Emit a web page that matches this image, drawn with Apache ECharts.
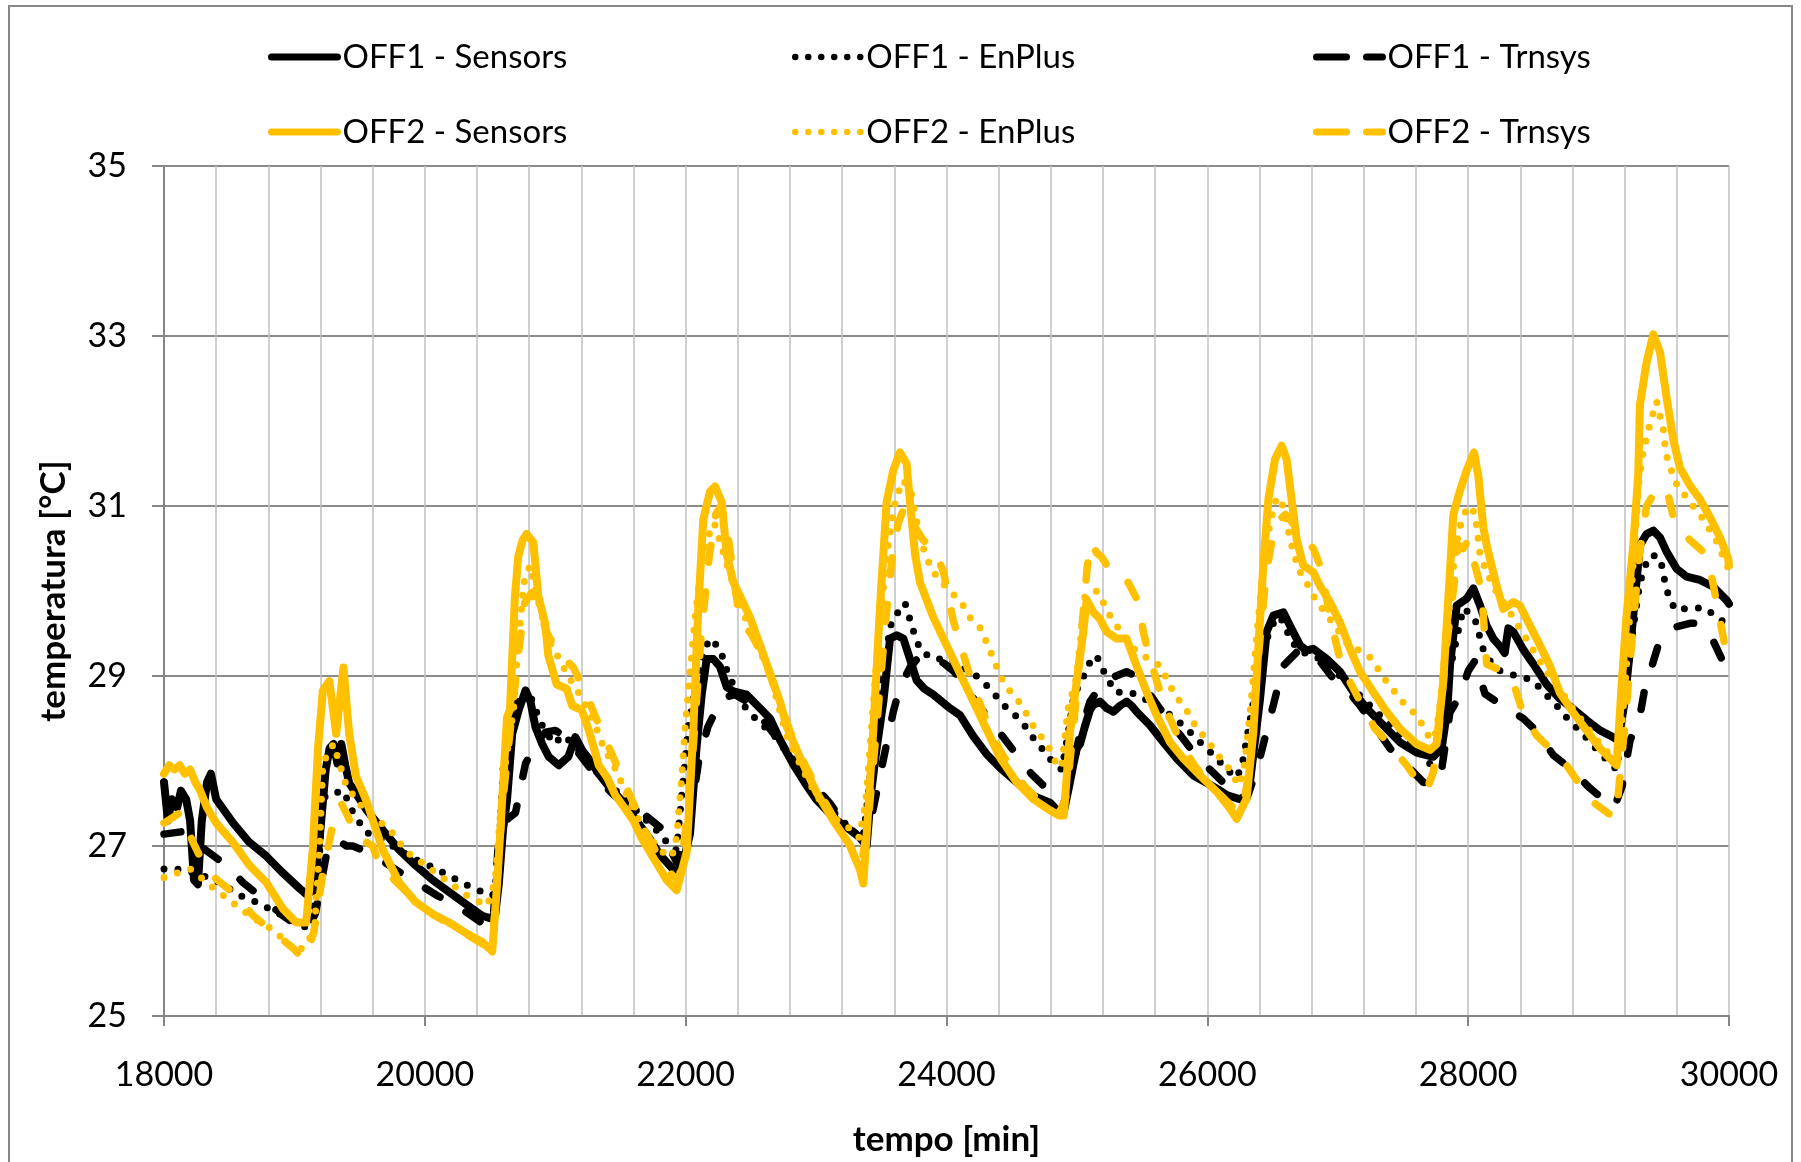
<!DOCTYPE html>
<html>
<head>
<meta charset="utf-8">
<script src="https://cdn.jsdelivr.net/npm/echarts/dist/echarts.min.js"></script>
<style>
html,body{margin:0;padding:0;background:#fff;}
#c{width:1801px;height:1162px;}
</style>
</head>
<body>
<div id="c"></div>
<script>
// ---- axis ticks ----
const xTicks = [18000, 20000, 22000, 24000, 26000, 28000, 30000];
const yTicks = [25, 27, 29, 31, 33, 35];

// ---- series names ----
const seriesNames = ['OFF1 - Sensors', 'OFF1 - EnPlus', 'OFF1 - Trnsys', 'OFF2 - Sensors', 'OFF2 - EnPlus', 'OFF2 - Trnsys'];

// ---- data [tempo min, temperatura °C] ----
const off1Sensors = [[18000,27.75],[18030,27.3],[18060,27.55],[18100,27.45],[18130,27.65],[18170,27.55],[18200,27.3],[18230,26.6],[18260,26.55],[18290,27.3],[18330,27.75],[18360,27.85],[18400,27.55],[18530,27.27],[18650,27.05],[18785,26.88],[18900,26.7],[19040,26.5],[19100,26.42],[19150,26.5],[19200,27.2],[19240,27.9],[19270,28.15],[19300,28.2],[19330,27.97],[19360,28.2],[19390,27.95],[19420,27.74],[19480,27.6],[19550,27.43],[19676,27.19],[19800,26.96],[19930,26.77],[20060,26.6],[20186,26.46],[20310,26.32],[20440,26.18],[20500,26.15],[20540,26.2],[20568,26.57],[20600,27.2],[20630,27.54],[20670,28.32],[20720,28.6],[20772,28.83],[20810,28.7],[20848,28.4],[20900,28.2],[20950,28.05],[21027,27.95],[21100,28.05],[21154,28.28],[21205,28.13],[21270,28.0],[21333,27.85],[21400,27.72],[21460,27.62],[21530,27.5],[21599,27.35],[21660,27.22],[21726,27.08],[21800,26.9],[21854,26.81],[21931,26.68],[21980,26.8],[22033,27.14],[22084,28.17],[22123,28.78],[22161,29.2],[22212,29.2],[22263,29.11],[22315,28.87],[22366,28.82],[22468,28.78],[22570,28.62],[22647,28.5],[22723,28.25],[22825,27.96],[22928,27.71],[23000,27.55],[23081,27.42],[23160,27.3],[23235,27.22],[23337,27.1],[23388,27.0],[23420,27.6],[23460,28.1],[23516,28.7],[23567,29.44],[23618,29.48],[23669,29.44],[23720,29.2],[23771,28.95],[23830,28.85],[23899,28.78],[24027,28.62],[24103,28.54],[24206,28.29],[24308,28.08],[24410,27.92],[24538,27.75],[24666,27.59],[24794,27.51],[24860,27.4],[24896,27.38],[24940,27.7],[24973,27.96],[25000,28.15],[25024,28.2],[25060,28.4],[25100,28.6],[25126,28.66],[25177,28.7],[25230,28.62],[25279,28.58],[25330,28.65],[25381,28.7],[25420,28.65],[25458,28.58],[25560,28.42],[25663,28.22],[25765,28.03],[25893,27.83],[26020,27.72],[26100,27.65],[26148,27.6],[26250,27.55],[26300,27.6],[26327,27.75],[26370,28.3],[26404,28.73],[26455,29.52],[26506,29.71],[26583,29.75],[26634,29.59],[26711,29.36],[26760,29.3],[26813,29.32],[26915,29.2],[27017,29.05],[27120,28.81],[27222,28.62],[27349,28.42],[27477,28.22],[27605,28.1],[27733,28.05],[27797,28.15],[27840,28.6],[27861,29.13],[27912,29.83],[27989,29.91],[28040,30.03],[28091,29.83],[28142,29.59],[28193,29.44],[28244,29.35],[28280,29.27],[28308,29.56],[28346,29.52],[28423,29.31],[28500,29.14],[28602,28.9],[28704,28.73],[28806,28.61],[28908,28.48],[29011,28.36],[29113,28.28],[29151,28.24],[29200,28.7],[29241,29.31],[29292,30.13],[29317,30.54],[29368,30.67],[29420,30.71],[29471,30.63],[29522,30.46],[29599,30.26],[29675,30.17],[29777,30.13],[29880,30.05],[29982,29.89],[30000,29.85]];

const off1EnPlus = [[18000,26.73],[18100,26.73],[18200,26.7],[18300,26.65],[18400,26.59],[18500,26.5],[18606,26.4],[18708,26.34],[18810,26.26],[18912,26.18],[19040,26.07],[19116,26.03],[19180,26.57],[19218,27.58],[19281,27.58],[19358,27.66],[19410,27.54],[19450,27.39],[19550,27.16],[19676,27.08],[19800,26.95],[19930,26.84],[20060,26.75],[20186,26.65],[20310,26.55],[20440,26.46],[20520,26.42],[20560,26.7],[20600,27.9],[20650,28.5],[20720,28.75],[20790,28.85],[20850,28.6],[20920,28.35],[21000,28.2],[21050,28.3],[21100,28.25],[21200,28.1],[21300,27.9],[21400,27.75],[21500,27.6],[21600,27.45],[21700,27.3],[21800,27.15],[21880,27.0],[21930,26.95],[21970,27.6],[22020,28.4],[22080,28.9],[22140,29.3],[22187,29.44],[22263,29.32],[22330,29.0],[22400,28.8],[22468,28.6],[22570,28.45],[22680,28.3],[22800,28.05],[22900,27.8],[23000,27.6],[23100,27.45],[23200,27.3],[23300,27.15],[23360,27.1],[23400,27.6],[23450,28.4],[23500,29.0],[23580,29.65],[23682,29.86],[23746,29.53],[23800,29.3],[23899,29.2],[24027,29.2],[24120,29.1],[24206,29.03],[24295,28.91],[24372,28.78],[24436,28.66],[24525,28.54],[24602,28.41],[24666,28.27],[24730,28.15],[24807,28.0],[24883,27.9],[24930,28.3],[24980,28.8],[25024,28.9],[25080,29.1],[25113,29.2],[25151,29.24],[25190,29.1],[25292,28.81],[25407,28.81],[25500,28.75],[25600,28.65],[25680,28.58],[25752,28.5],[25841,28.38],[25918,28.26],[25995,28.15],[26071,28.03],[26148,27.91],[26212,27.8],[26260,27.9],[26330,28.5],[26400,29.1],[26470,29.5],[26531,29.7],[26580,29.65],[26634,29.44],[26700,29.3],[26780,29.25],[26870,29.2],[26950,29.1],[27050,28.95],[27150,28.8],[27250,28.65],[27350,28.5],[27450,28.35],[27550,28.2],[27650,28.05],[27720,27.95],[27780,28.4],[27850,29.0],[27920,29.5],[27963,29.8],[28000,29.75],[28052,29.67],[28116,29.31],[28167,29.18],[28244,29.06],[28372,29.0],[28474,28.96],[28551,28.86],[28627,28.73],[28704,28.61],[28781,28.46],[28870,28.34],[28934,28.22],[29011,28.1],[29087,27.97],[29140,27.9],[29190,28.6],[29250,29.4],[29317,30.1],[29381,30.4],[29445,30.42],[29497,30.26],[29509,30.07],[29547,29.91],[29586,29.78],[29701,29.8],[29816,29.8],[29900,29.7],[29994,29.6],[30000,29.6]];

const off1Trnsys = [[18000,27.14],[18148,27.17],[18250,27.05],[18313,26.96],[18480,26.77],[18606,26.57],[18760,26.38],[18912,26.18],[19014,26.07],[19100,26.03],[19160,26.2],[19243,26.88],[19320,27.08],[19400,27.0],[19447,27.0],[19575,26.92],[19700,26.8],[19850,26.65],[20091,26.42],[20244,26.3],[20423,26.11],[20520,26.05],[20568,27.12],[20620,27.3],[20695,27.39],[20772,27.97],[20850,28.2],[20925,28.34],[21000,28.36],[21060,28.3],[21150,28.15],[21250,27.95],[21350,27.75],[21450,27.6],[21550,27.47],[21675,27.38],[21803,27.22],[21870,27.0],[21931,26.81],[21990,27.0],[22050,27.5],[22100,28.0],[22170,28.4],[22276,28.74],[22380,28.78],[22470,28.7],[22560,28.55],[22660,28.35],[22760,28.15],[22860,27.95],[22960,27.75],[23050,27.6],[23107,27.5],[23200,27.3],[23300,27.15],[23362,27.05],[23420,27.3],[23500,27.9],[23592,28.58],[23643,28.87],[23720,29.1],[23797,29.24],[23899,29.2],[23980,29.15],[24060,29.05],[24150,28.85],[24250,28.65],[24350,28.45],[24450,28.25],[24550,28.05],[24650,27.85],[24750,27.7],[24850,27.55],[24900,27.5],[24950,27.8],[25020,28.3],[25100,28.7],[25203,28.93],[25300,29.0],[25381,29.05],[25450,29.0],[25530,28.85],[25620,28.65],[25720,28.45],[25820,28.25],[25920,28.05],[26020,27.9],[26120,27.75],[26220,27.62],[26300,27.55],[26380,27.9],[26480,28.5],[26531,28.81],[26583,29.12],[26685,29.28],[26760,29.3],[26850,29.2],[26950,29.0],[27043,28.89],[27171,28.65],[27286,28.4],[27400,28.15],[27528,27.95],[27656,27.75],[27720,27.72],[27796,27.89],[27860,28.57],[27937,28.77],[28001,29.06],[28052,29.18],[28129,28.79],[28282,28.63],[28423,28.5],[28525,28.35],[28653,28.07],[28781,27.91],[28934,27.68],[29074,27.5],[29120,27.45],[29180,27.7],[29241,28.24],[29317,28.53],[29355,28.86],[29406,29.1],[29471,29.43],[29599,29.58],[29700,29.62],[29777,29.62],[29880,29.41],[29969,29.12],[30000,29.0]];

const off2Sensors = [[18000,27.85],[18040,27.95],[18080,27.9],[18120,27.95],[18160,27.85],[18200,27.9],[18240,27.75],[18275,27.66],[18330,27.45],[18400,27.27],[18530,27.04],[18657,26.77],[18785,26.57],[18912,26.26],[19014,26.1],[19090,26.1],[19141,26.96],[19180,28.13],[19218,28.83],[19268,28.94],[19320,28.32],[19376,29.1],[19420,28.32],[19472,27.82],[19550,27.54],[19676,26.96],[19803,26.57],[19930,26.34],[20060,26.2],[20186,26.1],[20310,25.98],[20440,25.87],[20517,25.76],[20555,26.57],[20593,27.54],[20630,28.51],[20653,28.61],[20691,29.94],[20717,30.41],[20750,30.6],[20781,30.67],[20832,30.57],[20870,29.94],[20921,29.63],[20947,29.24],[21011,28.9],[21088,28.85],[21130,28.65],[21203,28.6],[21260,28.35],[21333,27.95],[21400,27.8],[21460,27.6],[21530,27.45],[21599,27.3],[21660,27.1],[21726,26.93],[21854,26.6],[21931,26.48],[22008,26.93],[22059,28.37],[22097,29.81],[22135,30.84],[22187,31.17],[22225,31.23],[22276,31.05],[22315,30.43],[22366,30.1],[22417,29.94],[22493,29.69],[22570,29.36],[22647,29.03],[22723,28.7],[22774,28.41],[22877,28.04],[23004,27.63],[23132,27.3],[23260,27.01],[23337,26.72],[23362,26.56],[23388,27.14],[23439,28.37],[23490,29.81],[23541,31.05],[23592,31.42],[23643,31.63],[23694,31.5],[23720,31.05],[23759,30.43],[23797,30.1],[23899,29.69],[24001,29.36],[24103,29.03],[24206,28.7],[24308,28.37],[24410,28.04],[24538,27.75],[24666,27.55],[24794,27.42],[24860,27.36],[24900,27.36],[24947,28.34],[24998,28.93],[25049,29.52],[25075,29.9],[25126,29.75],[25177,29.67],[25228,29.52],[25305,29.44],[25381,29.44],[25458,29.12],[25535,28.81],[25611,28.54],[25714,28.22],[25816,28.03],[25944,27.83],[26071,27.64],[26174,27.44],[26225,27.32],[26301,27.56],[26353,28.34],[26391,29.32],[26429,30.3],[26468,31.08],[26519,31.55],[26570,31.71],[26608,31.55],[26646,31.08],[26685,30.61],[26736,30.3],[26813,30.22],[26864,30.06],[26940,29.87],[27017,29.63],[27094,29.32],[27171,29.05],[27273,28.81],[27375,28.58],[27477,28.38],[27605,28.2],[27707,28.13],[27758,28.2],[27809,28.93],[27848,29.91],[27886,30.9],[27937,31.18],[27989,31.42],[28045,31.63],[28078,31.35],[28116,30.75],[28142,30.54],[28167,30.38],[28218,30.06],[28269,29.79],[28346,29.87],[28397,29.83],[28474,29.59],[28551,29.36],[28627,29.12],[28704,28.8],[28806,28.57],[28908,28.36],[29011,28.15],[29113,27.99],[29138,27.95],[29177,28.9],[29215,29.72],[29266,30.54],[29304,31.37],[29317,32.19],[29368,32.69],[29420,33.02],[29471,32.81],[29522,32.27],[29573,31.78],[29624,31.45],[29701,31.24],[29777,31.08],[29854,30.87],[29931,30.63],[29994,30.38],[30000,30.3]];

const off2EnPlus = [[18000,26.63],[18100,26.68],[18200,26.73],[18300,26.61],[18377,26.51],[18555,26.3],[18657,26.18],[18800,26.05],[18912,25.91],[19014,25.76],[19090,25.83],[19154,26.03],[19192,26.96],[19218,27.97],[19260,28.1],[19300,28.2],[19340,28.0],[19400,27.7],[19529,27.44],[19640,27.3],[19733,27.19],[19861,26.93],[19963,26.82],[20052,26.72],[20142,26.62],[20231,26.52],[20321,26.42],[20410,26.35],[20480,26.3],[20540,26.6],[20580,27.4],[20620,28.0],[20680,28.6],[20717,29.4],[20760,30.1],[20806,30.3],[20850,30.0],[20900,29.7],[20960,29.4],[21030,29.2],[21100,29.0],[21200,28.75],[21300,28.45],[21369,28.17],[21471,27.88],[21599,27.42],[21700,27.15],[21800,26.95],[21893,26.87],[21930,27.1],[21944,27.34],[21969,27.8],[21995,28.37],[22030,29.0],[22080,29.8],[22130,30.4],[22187,30.7],[22220,30.8],[22260,30.6],[22320,30.3],[22400,29.9],[22480,29.6],[22570,29.3],[22650,29.0],[22774,28.3],[22890,27.92],[23000,27.6],[23120,27.35],[23247,27.22],[23330,27.1],[23380,27.5],[23430,28.5],[23480,29.5],[23540,30.4],[23600,31.0],[23660,31.3],[23700,31.25],[23733,31.13],[23759,30.93],[23784,30.72],[23810,30.55],[23886,30.25],[23963,30.1],[24040,29.98],[24116,29.86],[24180,29.69],[24257,29.57],[24321,29.35],[24372,29.15],[24423,28.97],[24487,28.82],[24576,28.66],[24666,28.41],[24781,28.17],[24832,28.0],[24883,27.92],[24930,28.6],[24998,28.99],[25062,29.95],[25126,29.98],[25151,30.0],[25215,29.83],[25266,29.67],[25350,29.5],[25450,29.3],[25550,29.2],[25637,29.12],[25688,28.97],[25739,28.81],[25803,28.67],[25867,28.54],[25918,28.38],[25995,28.26],[26059,28.11],[26123,27.99],[26187,27.87],[26238,27.71],[26280,27.9],[26330,28.6],[26380,29.5],[26430,30.3],[26480,30.8],[26531,31.1],[26570,31.05],[26610,30.8],[26634,30.61],[26697,30.26],[26760,30.1],[26830,29.9],[26940,29.67],[27020,29.5],[27081,29.36],[27170,29.3],[27247,29.22],[27311,29.08],[27375,28.93],[27439,28.81],[27516,28.66],[27605,28.54],[27694,28.3],[27740,28.25],[27780,28.6],[27830,29.4],[27880,30.2],[27925,30.69],[27963,30.88],[28000,31.0],[28052,30.92],[28091,30.42],[28167,30.14],[28230,29.95],[28300,29.8],[28400,29.55],[28500,29.3],[28600,29.05],[28700,28.85],[28800,28.62],[28900,28.42],[29000,28.22],[29100,28.05],[29150,28.0],[29200,28.8],[29260,30.2],[29310,31.3],[29343,31.65],[29400,32.0],[29445,32.23],[29480,32.0],[29497,31.9],[29509,31.72],[29530,31.53],[29600,31.25],[29700,31.05],[29800,30.85],[29900,30.6],[30000,30.25]];

const off2Trnsys = [[18000,27.27],[18122,27.39],[18224,27.04],[18275,26.88],[18400,26.61],[18555,26.42],[18683,26.18],[18835,25.99],[18988,25.8],[19050,25.7],[19090,25.68],[19150,26.0],[19220,26.7],[19300,27.3],[19360,27.5],[19410,27.35],[19470,27.12],[19600,27.0],[19650,26.78],[19800,26.55],[19930,26.35],[20060,26.2],[20186,26.08],[20310,25.97],[20440,25.85],[20517,25.78],[20593,27.45],[20650,28.3],[20720,29.3],[20768,29.87],[20819,29.98],[20870,29.8],[20940,29.5],[21011,29.3],[21139,29.1],[21220,28.85],[21300,28.55],[21400,28.2],[21500,27.85],[21600,27.5],[21700,27.15],[21800,26.85],[21900,26.65],[21950,26.6],[22000,27.2],[22060,28.2],[22120,29.5],[22180,30.4],[22230,30.9],[22270,31.0],[22320,30.7],[22404,29.77],[22442,29.61],[22500,29.5],[22570,29.3],[22650,29.0],[22723,28.7],[22800,28.35],[22900,28.0],[23000,27.7],[23130,27.35],[23260,27.0],[23340,26.7],[23400,27.3],[23470,28.5],[23530,29.6],[23580,30.35],[23630,30.8],[23680,31.0],[23740,30.8],[23820,30.6],[23899,30.51],[23976,30.23],[24014,29.94],[24052,29.65],[24120,29.3],[24200,28.9],[24300,28.5],[24400,28.15],[24500,27.9],[24600,27.7],[24700,27.55],[24800,27.45],[24870,27.4],[24920,27.6],[24980,28.5],[25040,29.6],[25080,30.3],[25113,30.57],[25150,30.45],[25190,30.4],[25279,30.18],[25394,30.1],[25471,29.87],[25509,29.52],[25547,29.28],[25620,28.9],[25700,28.55],[25800,28.2],[25900,27.95],[26000,27.75],[26100,27.6],[26200,27.45],[26270,27.4],[26330,28.0],[26390,29.2],[26450,30.2],[26520,30.8],[26600,30.9],[26680,30.75],[26760,30.6],[26813,30.5],[26864,30.3],[26966,29.52],[27017,29.2],[27094,28.93],[27171,28.7],[27286,28.38],[27400,28.19],[27528,27.95],[27631,27.72],[27680,27.65],[27733,27.87],[27770,28.28],[27830,29.3],[27899,30.17],[27925,30.54],[27963,30.5],[28000,30.6],[28052,30.3],[28103,30.01],[28142,29.14],[28257,29.06],[28340,28.95],[28423,28.55],[28525,28.3],[28627,28.15],[28755,27.95],[28857,27.72],[28972,27.5],[29087,27.37],[29113,27.33],[29150,27.6],[29200,28.4],[29260,29.5],[29310,30.4],[29368,31.0],[29445,31.2],[29522,31.2],[29573,30.87],[29640,30.7],[29700,30.6],[29803,30.46],[29867,30.17],[29969,29.35],[30000,29.14]];

// ---- styles ----
const BLACK = '#000000';
const GOLD = '#FFC000';
const FONT = 'Lato';
const DOT = [0, 14];
const DASH = [17, 30];

function lineSeries(name, data, color, width, dash) {
  return {
    name: name, type: 'line', data: data,
    symbol: 'none', showSymbol: false, smooth: false, animation: false,
    itemStyle: { color: color },
    lineStyle: { color: color, width: width, type: dash || 'solid', cap: 'round', join: 'round' },
    emphasis: { disabled: true }
  };
}

const series = [
  lineSeries(seriesNames[0], off1Sensors, BLACK, 8),
  lineSeries(seriesNames[1], off1EnPlus, BLACK, 7, DOT),
  lineSeries(seriesNames[2], off1Trnsys, BLACK, 7.5, DASH),
  lineSeries(seriesNames[3], off2Sensors, GOLD, 8),
  lineSeries(seriesNames[4], off2EnPlus, GOLD, 7, DOT),
  lineSeries(seriesNames[5], off2Trnsys, GOLD, 7.5, DASH)
];

const legendPos = [[268, 37], [792, 37], [1313, 37], [268, 112], [792, 112], [1313, 112]];
const legendColors = [BLACK, BLACK, BLACK, GOLD, GOLD, GOLD];
const legendDash = ['solid', [0, 13], [30, 20], 'solid', [0, 13], [30, 20]];
const legendWidth = [7, 6.5, 7, 7, 6.5, 7];
const legends = seriesNames.map(function (n, i) {
  return {
    data: [n], left: legendPos[i][0], top: legendPos[i][1],
    orient: 'horizontal', padding: 0, itemGap: 0,
    itemWidth: 66, itemHeight: 40, selectedMode: false,
    itemStyle: { opacity: 0, borderWidth: 0 },
    lineStyle: { color: legendColors[i], width: legendWidth[i], type: legendDash[i], cap: 'round', opacity: 1 },
    textStyle: { fontFamily: FONT, fontSize: 33, color: '#000', lineHeight: 40 }
  };
});

const chart = echarts.init(document.getElementById('c'), null, { renderer: 'canvas' });
chart.setOption({
  animation: false,
  backgroundColor: '#ffffff',
  textStyle: { fontFamily: FONT },
  grid: { left: 164, right: 72, top: 166, bottom: 144, containLabel: false },
  legend: legends,
  xAxis: {
    type: 'value', min: xTicks[0], max: xTicks[xTicks.length - 1], interval: 2000,
    name: 'tempo [min]', nameLocation: 'middle', nameGap: 106,
    nameTextStyle: { fontFamily: FONT, fontSize: 35, fontWeight: 'bold', color: '#000' },
    axisLine: { show: true, onZero: false, lineStyle: { color: '#868686', width: 2 } },
    axisTick: { show: true, length: 10, lineStyle: { color: '#868686', width: 2 } },
    axisLabel: { fontFamily: FONT, fontSize: 34, color: '#000', margin: 42, formatter: function (v) { return String(v); } },
    splitLine: { show: true, lineStyle: { color: '#c0c0c0', width: 1.5 } },
    minorTick: { show: false, splitNumber: 5 },
    minorSplitLine: { show: true, lineStyle: { color: '#c0c0c0', width: 1.5 } }
  },
  yAxis: {
    type: 'value', min: yTicks[0], max: yTicks[yTicks.length - 1], interval: 2,
    name: 'temperatura [°C]', nameLocation: 'middle', nameGap: 93, nameRotate: 90,
    nameTextStyle: { fontFamily: FONT, fontSize: 35, fontWeight: 'bold', color: '#000' },
    axisLine: { show: true, lineStyle: { color: '#868686', width: 2 } },
    axisTick: { show: true, length: 12, lineStyle: { color: '#868686', width: 2 } },
    axisLabel: { fontFamily: FONT, fontSize: 34, color: '#000', margin: 37, formatter: function (v) { return String(v); } },
    splitLine: { show: true, lineStyle: { color: '#8c8c8c', width: 2 } }
  },
  graphic: [{
    type: 'rect', silent: true, z: -1,
    shape: { x: 9, y: 6, width: 1783, height: 1200 },
    style: { fill: 'none', stroke: '#878787', lineWidth: 2 }
  }],
  series: series
});
</script>
</body>
</html>
